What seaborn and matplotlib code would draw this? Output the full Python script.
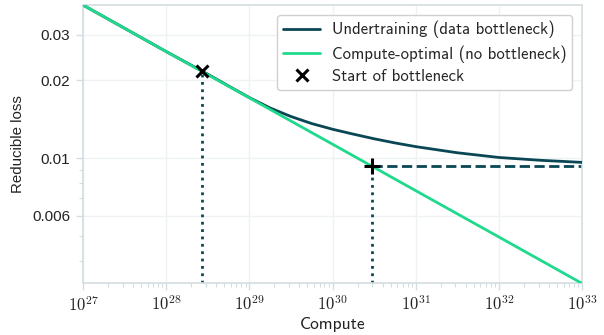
import numpy as np
import pandas as pd
import matplotlib
matplotlib.use("Agg")
import matplotlib.pyplot as plt
import seaborn as sns
from matplotlib.ticker import FixedLocator, NullFormatter, LogLocator, FixedFormatter
from matplotlib.lines import Line2D

# Compute-optimal scaling (straight line in log-log)
opt_exp = [27, 28, 29, 30, 31, 32, 33]
opt_loss = [0.0390, 0.0258, 0.0171, 0.01133, 0.00750, 0.00497, 0.00329]

# Undertraining curve, flattening once data runs out
under_exp = [27, 28, 28.5, 28.75, 29, 29.25, 29.5, 29.75, 30, 30.25,
             30.5, 30.75, 31, 31.5, 32, 32.5, 33]
under_loss = [0.0390, 0.0258, 0.0211, 0.0190, 0.01714, 0.01563, 0.01449,
              0.01361, 0.01294, 0.01239, 0.01189, 0.01146, 0.01109,
              0.01050, 0.01007, 0.00982, 0.00964]

# Markers
start_compute, start_loss = 2.7e28, 0.0217
floor_compute, floor_loss = 2.95e30, 0.00933

x_tick_exp = [27, 28, 29, 30, 31, 32, 33]
y_ticks = [0.006, 0.01, 0.02, 0.03]
y_tick_labels = ["0.006", "0.01", "0.02", "0.03"]

DARK = "#0a4754"
GREEN = "#1fd98c"
EDGE = "#d3dde1"
GRID = "#eef2f3"
TEXT = "#222222"

sns.set_theme(style="white")
plt.rcParams["mathtext.fontset"] = "cm"

df_opt = pd.DataFrame({"Compute": np.power(10.0, opt_exp), "loss": opt_loss})
df_under = pd.DataFrame({"Compute": np.power(10.0, under_exp), "loss": under_loss})

fig, ax = plt.subplots(figsize=(6.04, 3.35), dpi=100)
fig.subplots_adjust(left=0.1374, right=0.9636, top=0.985, bottom=0.155)
ax.set_xscale("log")
ax.set_yscale("log")
ax.set_xlim(1e27, 1e33)
ax.set_ylim(0.0033, 0.039)

sns.lineplot(data=df_under, x="Compute", y="loss", color=DARK, lw=2, ax=ax, zorder=3)
sns.lineplot(data=df_opt, x="Compute", y="loss", color=GREEN, lw=2, ax=ax, zorder=4)

ymin = ax.get_ylim()[0]
ax.vlines(start_compute, ymin, start_loss, colors=DARK, linestyles=":", lw=2, zorder=2)
ax.vlines(floor_compute, ymin, floor_loss, colors=DARK, linestyles=":", lw=2, zorder=2)
ax.hlines(floor_loss, floor_compute, 1e33, colors=DARK, linestyles="--", lw=2, zorder=2)
ax.plot([start_compute], [start_loss], marker="x", color="black", ms=9, mew=2.2,
        ls="none", zorder=6)
ax.plot([floor_compute], [floor_loss], marker="+", color="black", ms=12, mew=2.2,
        ls="none", zorder=6)

# Ticks and grid
ax.xaxis.set_major_locator(FixedLocator([10.0 ** e for e in x_tick_exp]))
ax.xaxis.set_major_formatter(FixedFormatter([r"$\mathrm{10^{%d}}$" % e for e in x_tick_exp]))
ax.xaxis.set_minor_locator(LogLocator(base=10, subs=np.arange(2, 10), numticks=100))
ax.xaxis.set_minor_formatter(NullFormatter())
ax.yaxis.set_major_locator(FixedLocator(y_ticks))
ax.yaxis.set_major_formatter(FixedFormatter(y_tick_labels))
ax.yaxis.set_minor_locator(LogLocator(base=10, subs=np.arange(2, 10), numticks=100))
ax.yaxis.set_minor_formatter(NullFormatter())

ax.grid(True, which="major", color=GRID, lw=1)
ax.tick_params(which="major", direction="out", length=5, width=1, color=EDGE,
               labelcolor=TEXT, pad=4)
ax.tick_params(axis="x", which="major", labelsize=12)
ax.tick_params(axis="y", which="major", labelsize=11)
ax.tick_params(which="minor", direction="out", length=3, width=0.8, color=EDGE)
ax.tick_params(axis="both", which="both", bottom=True, left=True)
for lab in ax.get_yticklabels():
    lab.set_family("Liberation Sans")
for sp in ax.spines.values():
    sp.set_color(EDGE)
    sp.set_linewidth(1.2)

ax.set_xlabel("Compute", family="cmss10", fontsize=12.5, color=TEXT, labelpad=1)
ax.set_ylabel("Reducible loss", family="Liberation Sans", fontsize=10.8, color=TEXT,
              labelpad=5)

handles = [
    Line2D([], [], color=DARK, lw=2),
    Line2D([], [], color=GREEN, lw=2),
    Line2D([], [], color="black", marker="x", ms=9, mew=2.2, ls="none"),
]
labels = ["Undertraining (data bottleneck)", "Compute-optimal (no bottleneck)",
          "Start of bottleneck"]
leg = ax.legend(handles, labels, loc="upper right", prop={"family": "cmss10", "size": 12},
                frameon=True, fancybox=True, framealpha=1, edgecolor="#d0d0d0",
                borderaxespad=0.6, handlelength=2.2, labelspacing=0.4,
                borderpad=0.35, handletextpad=0.7)
leg.get_frame().set_linewidth(1)

fig.savefig("out.png", dpi=100)
